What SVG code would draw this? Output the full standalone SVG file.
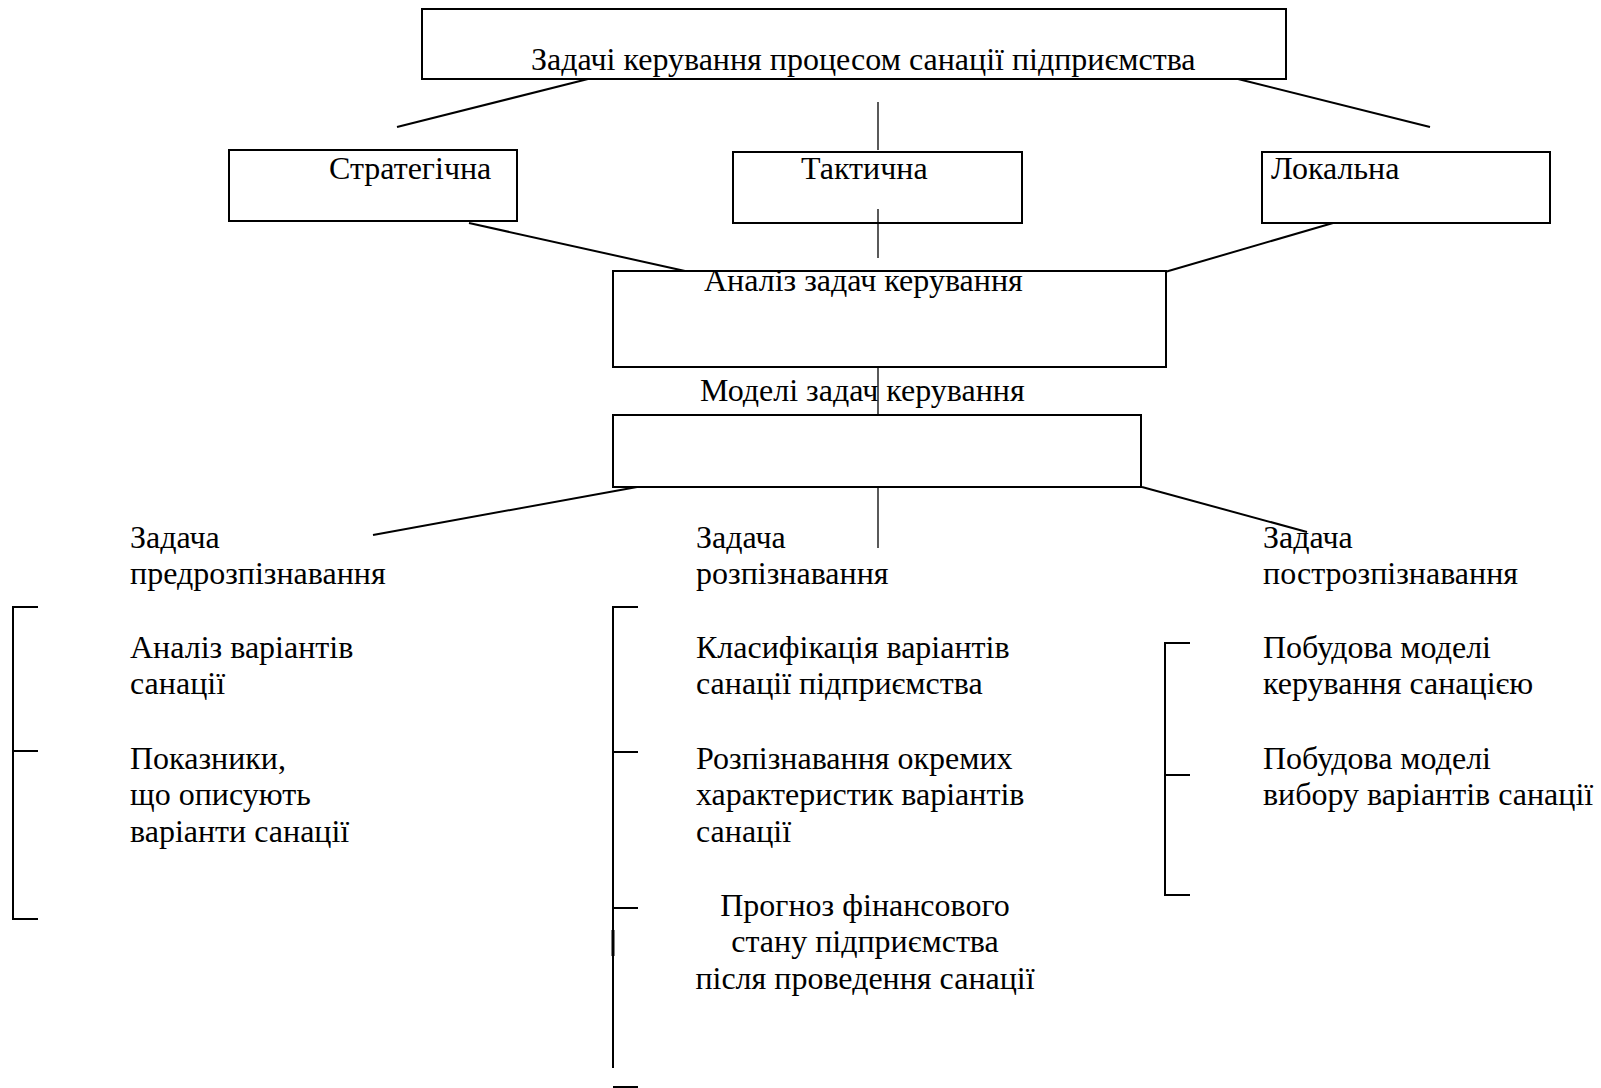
<svg xmlns="http://www.w3.org/2000/svg" width="1601" height="1088" viewBox="0 0 1601 1088">
<style>
.box{fill:#fff;stroke:#000;stroke-width:2}
.ln{stroke:#000;stroke-width:2;fill:none}
.thin{stroke:#000;stroke-width:1.3;fill:none}
text{font-family:"Liberation Serif","Times New Roman",serif;font-size:32px;fill:#000}
</style>
<rect width="1601" height="1088" fill="#fff"/>
<g id="connectors">
<line class="ln" x1="588" y1="79" x2="397" y2="127"/>
<line class="ln" x1="1238" y1="79" x2="1430" y2="127"/>
<line class="thin" x1="878" y1="102" x2="878" y2="150"/>
<line class="ln" x1="469" y1="223" x2="685" y2="271"/>
<line class="ln" x1="1333" y1="223" x2="1165" y2="272"/>
<line class="ln" x1="637" y1="487" x2="373" y2="535"/>
<line class="ln" x1="1142" y1="487" x2="1307" y2="532"/>
<line class="thin" x1="878" y1="487" x2="878" y2="548"/>
<path class="ln" d="M38 607 H13 V919 H38 M13 751 H38"/>
<path class="ln" d="M638 607 H613 V1068 M613 752 H638 M613 908 H638 M613 1087 H638"/>
<line x1="613" y1="930" x2="613" y2="956" stroke="#000" stroke-width="3"/>
<path class="ln" d="M1190 643 H1165 V895 H1190 M1165 775 H1190"/>
</g>
<g id="top">
<rect class="box" x="422" y="9" width="864" height="70"/>
<text x="531" y="70">Задачі керування процесом санації підприємства</text>
</g>
<g id="strategic">
<rect class="box" x="229" y="150" width="288" height="71"/>
<text x="329" y="179">Стратегічна</text>
</g>
<g id="tactical">
<rect class="box" x="733" y="152" width="289" height="71"/>
<text x="801" y="179">Тактична</text>
</g>
<g id="local">
<rect class="box" x="1262" y="152" width="288" height="71"/>
<text x="1271" y="179">Локальна</text>
</g>
<g id="analysis">
<rect class="box" x="613" y="271" width="553" height="96"/>
<text x="704" y="291">Аналіз задач керування</text>
</g>
<line class="thin" x1="878" y1="209" x2="878" y2="258"/>
<line class="thin" x1="878" y1="367" x2="878" y2="414"/>
<g id="models">
<text x="700" y="401">Моделі задач керування</text>
<rect class="box" x="613" y="415" width="528" height="72"/>
</g>
<g id="pre">
<text x="130" y="548">Задача</text>
<text x="130" y="584">предрозпізнавання</text>
</g>
<g id="rec">
<text x="696" y="548">Задача</text>
<text x="696" y="584">розпізнавання</text>
</g>
<g id="post">
<text x="1263" y="548">Задача</text>
<text x="1263" y="584">построзпізнавання</text>
</g>
<g id="pre-items">
<text x="130" y="658">Аналіз варіантів</text>
<text x="130" y="694">санації</text>
<text x="130" y="769">Показники,</text>
<text x="130" y="805">що описують</text>
<text x="130" y="842">варіанти санації</text>
</g>
<g id="rec-items">
<text x="696" y="658">Класифікація варіантів</text>
<text x="696" y="694">санації підприємства</text>
<text x="696" y="769">Розпізнавання окремих</text>
<text x="696" y="805">характеристик варіантів</text>
<text x="696" y="842">санації</text>
<text x="865" y="916" text-anchor="middle">Прогноз фінансового</text>
<text x="865" y="952" text-anchor="middle">стану підприємства</text>
<text x="865" y="989" text-anchor="middle">після проведення санації</text>
</g>
<g id="post-items">
<text x="1263" y="658">Побудова моделі</text>
<text x="1263" y="694">керування санацією</text>
<text x="1263" y="769">Побудова моделі</text>
<text x="1263" y="805">вибору варіантів санації</text>
</g>
</svg>
